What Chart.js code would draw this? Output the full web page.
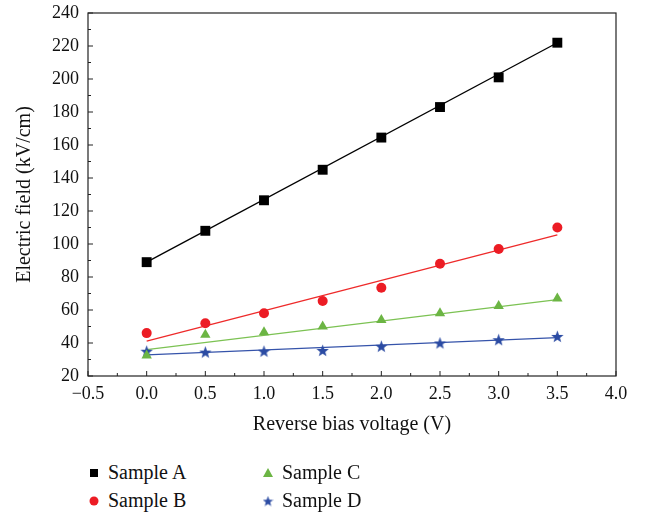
<!DOCTYPE html>
<html>
<head>
<meta charset="utf-8">
<script src="https://cdn.jsdelivr.net/npm/chart.js@4/dist/chart.umd.min.js"></script>
<style>
  body { margin: 0; background: #fff; }
  #wrap { position: relative; width: 653px; height: 518px; }
  #box { position: absolute; left: 0; top: 0; width: 653px; height: 440px; }
  #legend { position: absolute; left: 0; top: 0; font-family: "Liberation Serif", serif; font-size: 20px; color: #111; }
  .item { position: absolute; white-space: nowrap; display: flex; align-items: center; }
  .item canvas { margin-right: 8px; }
</style>
</head>
<body>
<div id="wrap">
  <div id="box"><canvas id="chart" width="653" height="440"></canvas></div>
  <div id="legend"></div>
</div>
<script>
// данные
const voltages = [0, 0.5, 1.0, 1.5, 2.0, 2.5, 3.0, 3.5];
const sampleA = [89, 108, 126.5, 145, 164.5, 183, 201, 222];
const sampleB = [46, 52, 58, 65.5, 73.5, 88, 97, 110];
const sampleC = [32.5, 45, 46.5, 50, 54, 58, 62.5, 67];
const sampleD = [35, 34.5, 35, 35.5, 38, 40, 42, 44];

// линейные аппроксимации: значения на концах (x = 0 и x = 3.5)
const fitX = [0, 3.5];
const fitA = [89, 222];
const fitB = [41.2, 105.5];
const fitC = [36, 66.3];
const fitD = [32.8, 43.2];

const seriesNames = ['Sample A', 'Sample B', 'Sample C', 'Sample D'];
const markerColors = ['#000000', '#ec1c24', '#6cb544', '#2b4ba3'];
const lineColors = ['#000000', '#ee2a2a', '#7cc253', '#3553aa'];

const xTicks = [-0.5, 0, 0.5, 1.0, 1.5, 2.0, 2.5, 3.0, 3.5, 4.0];
const yTicks = [20, 40, 60, 80, 100, 120, 140, 160, 180, 200, 220, 240];

// закрашенная звезда (у Chart.js 'star' рисуется только линиями)
function makeStar(size, color) {
  const c = document.createElement('canvas');
  c.width = size; c.height = size;
  const g = c.getContext('2d');
  const cx = size / 2, cy = size / 2 + 0.6;
  const R = size / 2, r = R * 0.42;
  g.beginPath();
  for (let i = 0; i < 10; i++) {
    const a = -Math.PI / 2 + i * Math.PI / 5;
    const rr = i % 2 === 0 ? R : r;
    g.lineTo(cx + rr * Math.cos(a), cy + rr * Math.sin(a));
  }
  g.closePath();
  g.fillStyle = color;
  g.fill();
  return c;
}

function pts(xs, ys) {
  return xs.map((x, i) => ({ x: x, y: ys[i] }));
}

const starImg = makeStar(13, markerColors[3]);
const markerStyles = ['rect', 'circle', 'triangle', starImg];
const markerRadius = [7, 5, 6, 6];
const samples = [sampleA, sampleB, sampleC, sampleD];
const fits = [fitA, fitB, fitC, fitD];

const datasets = [];
fits.forEach((f, i) => {
  datasets.push({
    data: pts(fitX, f),
    showLine: true,
    borderColor: lineColors[i],
    borderWidth: 1.3,
    pointRadius: 0,
    order: 2,
  });
});
samples.forEach((s, i) => {
  datasets.push({
    label: seriesNames[i],
    data: pts(voltages, s),
    showLine: false,
    pointStyle: markerStyles[i],
    pointRadius: markerRadius[i],
    backgroundColor: markerColors[i],
    borderColor: markerColors[i],
    borderWidth: 0,
    order: 1,
  });
});

// рамка и внутренние засечки
const frame = {
  id: 'frame',
  afterDraw(chart) {
    const { ctx, chartArea: a, scales } = chart;
    ctx.save();
    ctx.strokeStyle = '#222';
    ctx.lineWidth = 1.2;
    ctx.strokeRect(a.left, a.top, a.right - a.left, a.bottom - a.top);
    ctx.lineWidth = 1;
    ctx.beginPath();
    for (let v = -0.5; v <= 4.0001; v += 0.25) {
      const px = scales.x.getPixelForValue(v);
      const len = Math.abs(v * 2 - Math.round(v * 2)) < 1e-6 ? 5 : 3;
      ctx.moveTo(px, a.bottom);
      ctx.lineTo(px, a.bottom - len);
    }
    for (let v = 20; v <= 240; v += 10) {
      const py = scales.y.getPixelForValue(v);
      const len = v % 20 === 0 ? 5 : 3;
      ctx.moveTo(a.left, py);
      ctx.lineTo(a.left + len, py);
    }
    ctx.stroke();
    ctx.restore();
  },
};

const font = { family: '"Liberation Serif", serif', size: 18 };
const titleFont = { family: '"Liberation Serif", serif', size: 20 };

new Chart(document.getElementById('chart'), {
  type: 'scatter',
  data: { datasets: datasets },
  plugins: [frame],
  options: {
    responsive: false,
    animation: false,
    layout: { padding: { left: 0, right: 37, top: 13, bottom: 0 } },
    plugins: { legend: { display: false }, tooltip: { enabled: false } },
    scales: {
      x: {
        min: -0.5,
        max: 4.0,
        afterBuildTicks: (s) => { s.ticks = xTicks.map((v) => ({ value: v })); },
        afterFit: (s) => {
          s.height = 64;
          s.paddingLeft = 0;
          s.paddingRight = 0;
        },
        grid: { display: false, drawTicks: false },
        border: { display: false },
        ticks: {
          color: '#111',
          font: font,
          padding: 7,
          maxRotation: 0,
          callback: (v) => (v < 0 ? '\u2212' + Math.abs(v).toFixed(1) : v.toFixed(1)),
        },
        title: {
          display: true,
          text: 'Reverse bias voltage (V)',
          color: '#111',
          font: titleFont,
          padding: { top: 4, bottom: 3 },
        },
      },
      y: {
        min: 20,
        max: 240,
        afterBuildTicks: (s) => { s.ticks = yTicks.map((v) => ({ value: v })); },
        afterFit: (s) => {
          s.width = 88;
          s.paddingTop = 0;
          s.paddingBottom = 0;
        },
        grid: { display: false, drawTicks: false },
        border: { display: false },
        ticks: { color: '#111', font: font, padding: 9 },
        title: {
          display: true,
          text: 'Electric field (kV/cm)',
          color: '#111',
          font: titleFont,
          padding: { top: 13, bottom: 4 },
        },
      },
    },
  },
});

// легенда в две колонки под графиком
function createLegend() {
  const legend = document.getElementById('legend');
  const places = [[88, 461], [88, 489], [262, 461], [262, 489]];
  seriesNames.forEach((name, i) => {
    const item = document.createElement('div');
    item.className = 'item';
    item.style.left = places[i][0] + 'px';
    item.style.top = places[i][1] + 'px';
    const icon = document.createElement('canvas');
    icon.width = 12; icon.height = 12;
    const g = icon.getContext('2d');
    g.fillStyle = markerColors[i];
    if (i === 0) g.fillRect(2, 2, 8, 8);
    if (i === 1) { g.beginPath(); g.arc(6, 6, 4.5, 0, Math.PI * 2); g.fill(); }
    if (i === 2) { g.beginPath(); g.moveTo(6, 1); g.lineTo(11, 10); g.lineTo(1, 10); g.closePath(); g.fill(); }
    if (i === 3) g.drawImage(makeStar(11, markerColors[3]), 0.5, 0.5);
    const text = document.createElement('span');
    text.textContent = name;
    item.appendChild(icon);
    item.appendChild(text);
    legend.appendChild(item);
  });
}
createLegend();
</script>
</body>
</html>
